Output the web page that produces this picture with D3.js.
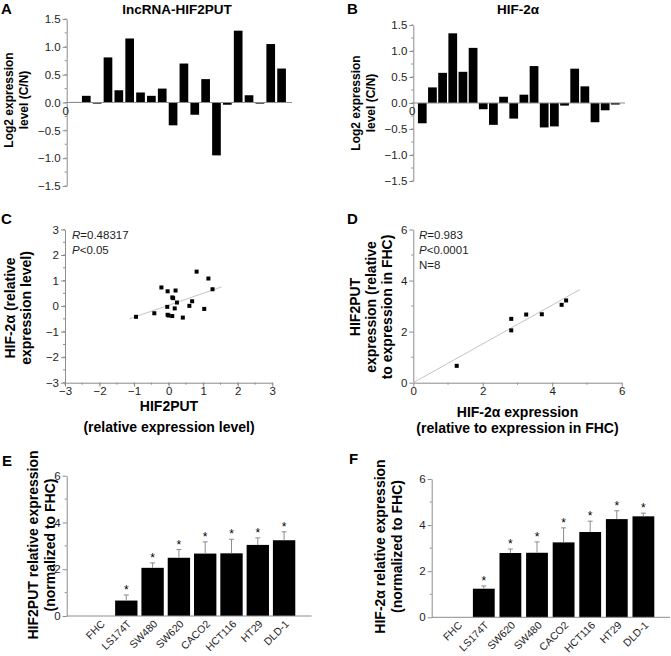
<!DOCTYPE html>
<html><head><meta charset="utf-8">
<script src="https://cdn.jsdelivr.net/npm/d3@7"></script>
<style>
body{margin:0;background:#fff}
svg{display:block}
text{font-family:"Liberation Sans",Arial,Helvetica,sans-serif}
</style>
</head><body>
<svg id="chart" width="671" height="656"></svg>
<script>
// ---------- DATA ----------
const samples = d3.range(1, 21).map(String);
const lncValues = [0.01, 0.12, -0.02, 0.81, 0.22, 1.15, 0.18, 0.12, 0.25, -0.41, 0.70, -0.22, 0.42, -0.95, -0.04, 1.29, 0.13, -0.02, 1.05, 0.61];
const hifValues = [-0.39, 0.30, 0.58, 1.34, 0.60, 1.06, -0.12, -0.42, 0.12, -0.30, 0.16, 0.71, -0.47, -0.45, -0.05, 0.66, 0.32, -0.37, -0.14, -0.03];
const logTicks = [-1.5, -1.0, -0.5, 0.0, 0.5, 1.0, 1.5];

const scatterCx = [-0.945, -0.415, -0.21, -0.03, -0.04, -0.03, 0.0, 0.105, 0.105, 0.13, 0.175, 0.2, 0.24, 0.41, 0.6, 0.68, 0.81, 1.03, 1.15, 1.27];
const scatterCy = [-0.42, -0.28, 0.73, 0.58, -0.03, -0.34, -0.37, -0.39, 0.34, 0.31, -0.09, 0.61, 0.14, -0.45, 0.01, 0.19, 1.35, -0.11, 1.08, 0.66];
const fitC = [[-1.14, -0.5], [1.53, 0.75]];
const ticksC = [-3, -2, -1, 0, 1, 2, 3];
const statsC = [["R", "=0.48317"], ["P", "<0.05"]];

const scatterDx = [1.25, 2.82, 2.82, 3.25, 3.70, 4.27, 4.40];
const scatterDy = [0.66, 2.05, 2.50, 2.67, 2.68, 3.05, 3.22];
const fitD = [[0, 0], [4.8, 3.65]];
const ticksD = [0, 2, 4, 6];
const statsD = [["R", "=0.983"], ["P", "<0.0001"], ["", "N=8"]];

const cellLinesE = ["FHC", "LS174T", "SW480", "SW620", "CACO2", "HCT116", "HT29", "DLD-1"];
const hif2putMean = [0, 0.66, 2.06, 2.49, 2.67, 2.68, 3.04, 3.24];
const hif2putErr  = [0, 0.24, 0.21, 0.35, 0.50, 0.60, 0.30, 0.36];
const cellLinesF = ["FHC", "LS174T", "SW620", "SW480", "CACO2", "HCT116", "HT29", "DLD-1"];
const hifMean = [0, 1.24, 2.79, 2.80, 3.25, 3.70, 4.26, 4.38];
const hifErr  = [0, 0.12, 0.17, 0.47, 0.63, 0.47, 0.36, 0.14];
const barTicks = [0, 2, 4, 6];

// ---------- HELPERS ----------
const svg = d3.select("#chart");
const AXC = "#8c8c8c", TXT = "#1e1e1e";
const F = '"Liberation Sans",Arial,sans-serif';

function yAxis(x, scale, majors, minors, fmt, fs) {
  const g = svg.append("g").attr("transform", `translate(${x},0)`);
  g.call(d3.axisLeft(scale).tickValues(majors).tickFormat(fmt).tickSize(4).tickSizeOuter(0).tickPadding(2));
  g.select(".domain").attr("stroke", AXC);
  g.selectAll(".tick line").attr("stroke", AXC);
  g.selectAll(".tick text").attr("fill", TXT).style("font-size", fs + "px").style("font-family", F);
  g.selectAll(".mn").data(minors).join("line").attr("class", "mn")
    .attr("x1", -2).attr("x2", 0).attr("y1", d => scale(d)).attr("y2", d => scale(d)).attr("stroke", AXC);
  return g;
}
function xAxis(y, scale, majors, minors, fmt, fs) {
  const g = svg.append("g").attr("transform", `translate(0,${y})`);
  g.call(d3.axisBottom(scale).tickValues(majors).tickFormat(fmt).tickSize(4).tickSizeOuter(0).tickPadding(0));
  g.select(".domain").attr("stroke", AXC);
  g.selectAll(".tick line").attr("stroke", AXC);
  g.selectAll(".tick text").attr("fill", TXT).style("font-size", fs + "px").style("font-family", F);
  g.selectAll(".mn").data(minors).join("line").attr("class", "mn")
    .attr("y1", 0).attr("y2", 2).attr("x1", d => scale(d)).attr("x2", d => scale(d)).attr("stroke", AXC);
  return g;
}
function hline(x1, x2, y) {
  svg.append("line").attr("x1", x1).attr("x2", x2).attr("y1", y).attr("y2", y).attr("stroke", AXC);
}
function label(x, y, txt, size, opts = {}) {
  const t = svg.append("text").attr("x", x).attr("y", y).text(txt)
    .style("font-size", size + "px").style("font-weight", opts.bold ? "bold" : "normal")
    .attr("fill", opts.fill || "#000").attr("text-anchor", opts.anchor || "start");
  return t;
}
function vlabel(cx, cy, lines, size, gap) {
  lines.forEach((l, i) => {
    svg.append("text").attr("transform", `translate(${cx + i * gap},${cy}) rotate(-90)`)
      .attr("text-anchor", "middle").style("font-size", size + "px").style("font-weight", "bold")
      .attr("fill", "#000").text(l);
  });
}
const minorsOf = (a, b, s) => d3.range(a, b + 1e-9, s);

// ---------- PANEL LETTERS ----------
[["A", 1, 14], ["B", 347, 14], ["C", 1, 224], ["D", 347, 224], ["E", 2, 466], ["F", 349, 464]]
  .forEach(([t, x, y]) => label(x, y, t, 15, { bold: true }));

// ---------- PANEL A / B ----------
function logBars(values, yTop, yBot, axisX, axisEnd, r0, r1, pad, title, titleX, labCx, labCy) {
  const y = d3.scaleLinear().domain([-1.5, 1.5]).range([yBot, yTop]);
  const x = d3.scaleBand().domain(samples).range([r0, r1]).paddingInner(pad).paddingOuter(pad / 2);
  svg.append("g").selectAll("rect").data(values).join("rect")
    .attr("x", (d, i) => x(samples[i])).attr("width", x.bandwidth())
    .attr("y", d => y(Math.max(0, d))).attr("height", d => Math.max(0.8, Math.abs(y(d) - y(0))))
    .attr("fill", "#000");
  hline(axisX, axisEnd, y(0));
  yAxis(axisX, y, logTicks, minorsOf(-1.5, 1.5, 0.25), d3.format(".1f"), 11.5);
  label(axisX - 1, y(0) + 12, "0", 11.5, { anchor: "middle", fill: TXT });
  label(titleX, 14, title, 13.5, { bold: true, anchor: "middle" });
  vlabel(labCx, labCy, ["Log2 expression", "level (C/N)"], 12, 15);
}
logBars(lncValues, 19, 186, 66.7, 292, 70, 287, 0.2, "lncRNA-HIF2PUT", 177, 12.6, 100);
logBars(hifValues, 25, 181, 413.3, 625, 417.2, 620.4, 0.14, "HIF-2α", 518, 359.5, 103);

// ---------- PANEL C ----------
{
  const x = d3.scaleLinear().domain([-3, 3]).range([65, 272.3]);
  const y = d3.scaleLinear().domain([-3, 3]).range([382.7, 229.5]);
  const fmt = d3.format("d");
  yAxis(65, y, ticksC, minorsOf(-3, 3, 0.5), fmt, 11.5);
  xAxis(382.7, x, ticksC, minorsOf(-3, 3, 0.5), fmt, 11.5);
  svg.append("line").attr("x1", x(fitC[0][0])).attr("y1", y(fitC[0][1]))
    .attr("x2", x(fitC[1][0])).attr("y2", y(fitC[1][1])).attr("stroke", "#c4c4c4");
  svg.append("g").selectAll("rect").data(scatterCx).join("rect")
    .attr("x", d => x(d) - 2).attr("y", (d, i) => y(scatterCy[i]) - 2)
    .attr("width", 4).attr("height", 4).attr("fill", "#000");
  statsC.forEach(([it, rest], i) => {
    const t = label(72, 239 + i * 15, "", 11.5, { fill: TXT });
    t.append("tspan").style("font-style", "italic").text(it);
    t.append("tspan").text(rest);
  });
  label(169, 411, "HIF2PUT", 14, { bold: true, anchor: "middle" });
  label(169, 432, "(relative expression level)", 14, { bold: true, anchor: "middle" });
  vlabel(14.5, 308, ["HIF-2α (relative", "expression level)"], 14, 16);
}

// ---------- PANEL D ----------
{
  const x = d3.scaleLinear().domain([0, 6]).range([413.3, 621.7]);
  const y = d3.scaleLinear().domain([0, 6]).range([382.7, 229.5]);
  const fmt = d3.format("d");
  yAxis(413.3, y, ticksD, [1, 3, 5], fmt, 11.5);
  xAxis(382.7, x, ticksD, [1, 3, 5], fmt, 11.5);
  svg.append("line").attr("x1", x(fitD[0][0])).attr("y1", y(fitD[0][1]))
    .attr("x2", x(fitD[1][0])).attr("y2", y(fitD[1][1])).attr("stroke", "#c4c4c4");
  svg.append("g").selectAll("rect").data(scatterDx).join("rect")
    .attr("x", d => x(d) - 2).attr("y", (d, i) => y(scatterDy[i]) - 2)
    .attr("width", 4).attr("height", 4).attr("fill", "#000");
  statsD.forEach(([it, rest], i) => {
    const t = label(419, 239 + i * 15, "", 11.5, { fill: TXT });
    if (it) t.append("tspan").style("font-style", "italic").text(it);
    t.append("tspan").text(rest);
  });
  label(517.5, 417, "HIF-2α expression", 14, { bold: true, anchor: "middle" });
  label(517.5, 433, "(relative to expression in FHC)", 14, { bold: true, anchor: "middle" });
  vlabel(360, 307, ["HIF2PUT", "expression (relative", "to expression in FHC)"], 14, 16);
}

// ---------- PANEL E / F ----------
function cellBars(cats, means, errs, axisX, axisEnd, yTop, yBot, r0, r1, pad, labCx, labCy, lines) {
  const y = d3.scaleLinear().domain([0, 6]).range([yBot, yTop]);
  const x = d3.scaleBand().domain(cats).range([r0, r1]).paddingInner(pad).paddingOuter(pad / 2);
  const g = svg.append("g");
  const idx = d3.range(cats.length).filter(i => means[i] > 0);
  g.selectAll("rect").data(idx).join("rect")
    .attr("x", i => x(cats[i])).attr("width", x.bandwidth())
    .attr("y", i => y(means[i])).attr("height", i => y(0) - y(means[i])).attr("fill", "#000");
  const cx = i => x(cats[i]) + x.bandwidth() / 2;
  g.selectAll(".eb").data(idx).join("line").attr("class", "eb")
    .attr("x1", cx).attr("x2", cx).attr("y1", i => y(means[i])).attr("y2", i => y(means[i] + errs[i]))
    .attr("stroke", "#8c8c8c");
  g.selectAll(".ec").data(idx).join("line").attr("class", "ec")
    .attr("x1", i => cx(i) - 2.5).attr("x2", i => cx(i) + 2.5)
    .attr("y1", i => y(means[i] + errs[i])).attr("y2", i => y(means[i] + errs[i]))
    .attr("stroke", "#8c8c8c");
  g.selectAll(".st").data(idx).join("text").attr("class", "st")
    .attr("x", cx).attr("y", i => y(means[i] + errs[i]) - 1)
    .attr("text-anchor", "middle").style("font-size", "12px").attr("fill", "#000").text("*");
  hline(axisX, axisEnd, y(0));
  yAxis(axisX, y, barTicks, [1, 3, 5], d3.format("d"), 11.5);
  g.selectAll(".xl").data(cats).join("text").attr("class", "xl")
    .attr("transform", d => `translate(${x(d) + x.bandwidth() / 2 + 3},${y(0) + 6}) rotate(-45)`)
    .attr("text-anchor", "end").attr("dy", "0.35em").style("font-size", "10.5px").attr("fill", TXT).text(d => d);
  vlabel(labCx, labCy, lines, 14, 17);
}
cellBars(cellLinesE, hif2putMean, hif2putErr, 66.7, 311.7, 475.7, 616, 86.85, 297.25, 0.15, 38, 545,
  ["HIF2PUT relative expression", "(normalized to FHC)"]);
cellBars(cellLinesF, hifMean, hifErr, 431.7, 670, 479, 617.3, 443.9, 656.7, 0.18, 385, 546.5,
  ["HIF-2α relative expression", "(normalized to FHC)"]);
</script>
</body></html>
